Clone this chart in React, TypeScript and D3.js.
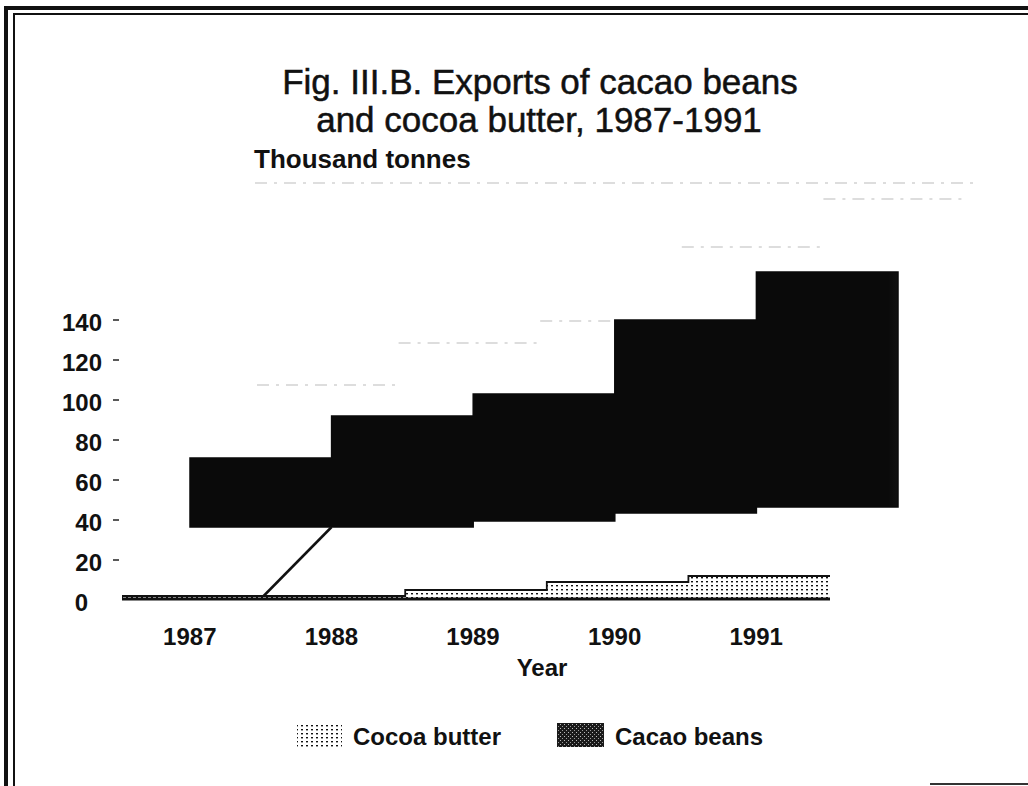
import React from "react";
import * as d3 from "d3";

const years = ["1987", "1988", "1989", "1990", "1991"];
const cocoaButter = [2, 2, 5, 9, 12];
const cacaoBeans = [34.5, 55.5, 63.5, 96.5, 117.5];
const yTicks = [0, 20, 40, 60, 80, 100, 120, 140];
const titleLines = ["Fig. III.B. Exports of cacao beans", "and cocoa butter, 1987-1991"];
const legendItems = ["Cocoa butter", "Cacao beans"];

const W = 1028;
const H = 786;
const FONT = "'Liberation Sans', Arial, Helvetica, sans-serif";

export default function App() {
  const x = d3.scaleBand<string>().domain(years).range([122, 830]).paddingInner(0).paddingOuter(0);
  const y = d3.scaleLinear().domain([0, 140]).range([600, 320]);
  const bw = x.bandwidth();
  const depth = { dx: 68, dy: -69 };
  const depth2 = { dx: 67, dy: -73 };

  type P = { x: number; v0: number; v1: number };
  const stepPts = (v0: number[], v1: number[]): P[] => {
    const pts: P[] = years.map((yr, i) => ({ x: x(yr)!, v0: v0[i], v1: v1[i] }));
    const last = years.length - 1;
    pts.push({ x: x(years[last])! + bw, v0: v0[last], v1: v1[last] });
    return pts;
  };

  const zeros = years.map(() => 0);
  const cum = cocoaButter.map((b, i) => b + cacaoBeans[i]);

  const area = d3
    .area<P>()
    .curve(d3.curveStepAfter)
    .x((d) => d.x)
    .y0((d) => y(d.v0))
    .y1((d) => y(d.v1));
  const topLine = d3
    .line<P>()
    .curve(d3.curveStepAfter)
    .x((d) => d.x)
    .y((d) => y(d.v1));

  const butterPts = stepPts(zeros, cocoaButter);
  const beansPts = stepPts(cocoaButter, cum);

  const diag = d3.line<[number, number]>()([
    [x(years[1])!, y(cocoaButter[0])],
    [x(years[1])! + depth.dx, y(cocoaButter[0]) + depth.dy],
  ]);

  // faint back edges of the block tops (horizontal segments only)
  const ghostSegs = years.map((yr, i) => {
    const x0 = x(yr)! + depth.dx + depth2.dx;
    const yy = y(cum[i]) + depth.dy + depth2.dy;
    return d3.line<[number, number]>()([
      [x0, yy],
      [x0 + bw, yy],
    ]);
  });

  return (
    <svg
      width={W}
      height={H}
      style={{ position: "absolute", left: 0, top: 0, background: "#fff" }}
      fontFamily={FONT}
    >
      <defs>
        <pattern id="butterPat" width="5" height="4" patternUnits="userSpaceOnUse">
          <rect width="5" height="4" fill="#fff" />
          <rect x="1" y="1" width="2" height="1.4" fill="#111" />
        </pattern>
        <pattern id="beansPat" width="4" height="4" patternUnits="userSpaceOnUse">
          <rect width="4" height="4" fill="#1a1a1a" />
          <rect x="0" y="0" width="1" height="1" fill="#bbb" />
          <rect x="2" y="2" width="1" height="1" fill="#999" />
        </pattern>
        <linearGradient id="beansGrad" gradientUnits="userSpaceOnUse" x1={x(years[4])! + depth.dx} x2={x(years[4])! + bw + depth.dx} y1="0" y2="0">
          <stop offset="0" stopColor="#0a0a0a" />
          <stop offset="0.45" stopColor="#0a0a0a" />
          <stop offset="1" stopColor="#3a3a3a" />
        </linearGradient>
      </defs>

      {/* frame */}
      <g fill="none" stroke="#111">
        <path d={`M6,${H} V8 H${W}`} strokeWidth={4} />
        <path d={`M14,${H} V14 H${W}`} strokeWidth={2} />
        <line x1={930} x2={W} y1={784} y2={784} strokeWidth={2} stroke="#333" />
      </g>

      {/* title */}
      <g fontSize={35} textAnchor="middle" fill="#111" stroke="#111" strokeWidth={0.5}>
        <text x={540} y={94}>{titleLines[0]}</text>
        <text x={539} y={132}>{titleLines[1]}</text>
      </g>

      <text x={254} y={168} fontSize={26} fontWeight="bold" fill="#111">Thousand tonnes</text>

      {/* faint back edges */}
      <g stroke="#888" strokeWidth={1.2} strokeDasharray="12 7 3 7" opacity={0.55} fill="none">
        {ghostSegs.map((d, i) => (
          <path key={i} d={d ?? ""} />
        ))}
        <line x1={255} x2={975} y1={y(208.5)} y2={y(208.5)} />
      </g>

      {/* cacao beans (back row) */}
      <g transform={`translate(${depth.dx},${depth.dy})`}>
        <path d={area(beansPts) ?? ""} fill="url(#beansGrad)" stroke="#0a0a0a" strokeWidth={1.5} />
      </g>

      {/* depth edge */}
      <path d={diag ?? ""} stroke="#111" strokeWidth={2.5} fill="none" />

      {/* cocoa butter (front row) */}
      <path d={area(butterPts) ?? ""} fill="url(#butterPat)" stroke="none" />
      <path d={topLine(butterPts) ?? ""} fill="none" stroke="#111" strokeWidth={1.8} />
      <line x1={x(years[0])!} x2={x(years[4])! + bw} y1={y(0) - 1} y2={y(0) - 1} stroke="#111" strokeWidth={3} />

      {/* y axis */}
      <g fontSize={24} fontWeight="bold" fill="#111" textAnchor="end">
        {yTicks.map((t) => (
          <g key={t}>
            <text x={t === 0 ? 88 : 102} y={y(t) + 2} dominantBaseline="central">{t}</text>
            {t > 0 && <line x1={113} x2={119} y1={y(t)} y2={y(t)} stroke="#222" strokeWidth={1.5} />}
          </g>
        ))}
      </g>

      {/* x axis */}
      <g fontSize={24} fontWeight="bold" fill="#111" textAnchor="middle">
        {years.map((yr) => (
          <text key={yr} x={x(yr)! + bw / 2 - 3} y={636} dominantBaseline="central">{yr}</text>
        ))}
        <text x={542} y={667} dominantBaseline="central">Year</text>
      </g>

      {/* legend */}
      <g fontSize={24} fontWeight="bold" fill="#111">
        <rect x={297} y={723} width={45} height={24} fill="url(#butterPat)" />
        <text x={353} y={736} dominantBaseline="central">{legendItems[0]}</text>
        <rect x={557} y={723} width={47} height={24} fill="url(#beansPat)" />
        <text x={615} y={736} dominantBaseline="central">{legendItems[1]}</text>
      </g>
    </svg>
  );
}
